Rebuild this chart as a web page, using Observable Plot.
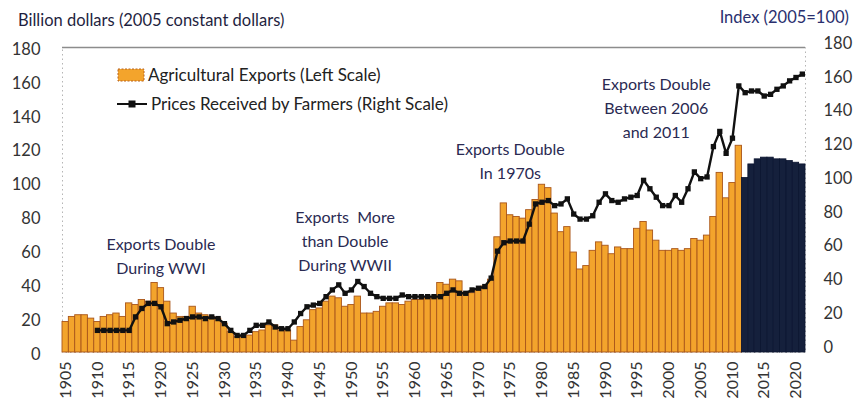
<!DOCTYPE html>
<html>
<head>
<meta charset="utf-8">
<script src="https://cdn.jsdelivr.net/npm/d3@7"></script>
<script src="https://cdn.jsdelivr.net/npm/@observablehq/plot@0.6"></script>
<style>
  html, body { margin: 0; padding: 0; background: #fff; }
  #wrap { position: relative; width: 857px; height: 406px; font-family: Lato, "Open Sans", sans-serif; }
  .ttl { position: absolute; font-size: 16.5px; white-space: nowrap; }
  .leg { position: absolute; left: 117px; font-size: 17px; color: #222; white-space: nowrap; display: flex; align-items: center; }
  .leg svg { margin-right: 3px; }
</style>
</head>
<body>
<div id="wrap">
  <div class="ttl" style="left:18px; top:10px; color:#1f1f3f;">Billion dollars (2005 constant dollars)</div>
  <div class="ttl" style="right:8px; top:7px; color:#2a2f6e;">Index (2005=100)</div>
  <div class="leg" style="top:64px;">
    <svg width="28" height="16"><rect x="1" y="2" width="26" height="12" fill="#f3a42c" stroke="#b8621c" stroke-width="1" stroke-dasharray="2,1.5"></rect></svg>
    <span>Agricultural Exports (Left Scale)</span>
  </div>
  <div class="leg" style="top:93px;">
    <svg width="31" height="16"><line x1="0" y1="8" x2="30" y2="8" stroke="#111" stroke-width="2"></line><rect x="11.5" y="4.5" width="7" height="7" fill="#111"></rect></svg>
    <span>Prices Received by Farmers (Right Scale)</span>
  </div>
</div>
<script>
// ---- data ----
const firstYear = 1905;
const lastYear = 2021;
const projectionStart = 2012;

// Agricultural exports, billion 2005 dollars, 1905..2021
const exportValues = [
  18, 21, 22, 22, 20, 18, 21, 22, 23, 21,
  29, 28, 31, 30, 41, 38, 30, 23, 21, 21,
  27, 23, 22, 21, 20, 17, 12, 9, 9, 10,
  12, 13, 16, 16, 13, 13, 7, 15, 19, 25,
  26, 30, 33, 32, 27, 28, 33, 23, 23, 24,
  27, 29, 29, 28, 30, 31, 31, 32, 32, 41,
  40, 43, 42, 35, 35, 37, 39, 43, 68, 88,
  81, 80, 79, 84, 90, 99, 97, 82, 71, 74,
  59, 49, 51, 60, 65, 63, 58, 62, 61, 61,
  73, 77, 72, 66, 60, 60, 61, 60, 61, 67,
  66, 69, 80, 106, 91, 100, 122, 103, 111, 114,
  115, 115, 114, 114, 113, 112, 111
];

// Prices received by farmers, index 2005=100, 1910..2021
const priceStart = 1910;
const priceValues = [
  10, 10, 10, 10, 10, 10, 18, 23, 26, 26,
  24, 14, 15, 16, 17, 18, 18, 17, 18, 17,
  14, 10, 7, 7, 10, 13, 13, 15, 12, 11,
  11, 15, 20, 24, 25, 26, 30, 34, 37, 32,
  34, 39, 36, 32, 30, 29, 29, 29, 31, 30,
  30, 30, 30, 30, 30, 32, 34, 32, 32, 34,
  35, 36, 41, 57, 62, 63, 63, 63, 73, 85,
  86, 87, 84, 85, 88, 79, 76, 76, 78, 86,
  91, 87, 86, 88, 89, 90, 99, 94, 89, 84,
  84, 90, 86, 94, 104, 100, 101, 119, 128, 115,
  124, 155, 151, 152, 152, 149, 150, 153, 155, 158,
  160, 162
];

const leftTicks = [0, 20, 40, 60, 80, 100, 120, 140, 160, 180];
const rightTicks = [0, 20, 40, 60, 80, 100, 120, 140, 160, 180];
const xTickYears = [1905, 1910, 1915, 1920, 1925, 1930, 1935, 1940, 1945, 1950, 1955, 1960,
                    1965, 1970, 1975, 1980, 1985, 1990, 1995, 2000, 2005, 2010, 2015, 2020];

const annotationText = [
  "Exports Double\nDuring WWI",
  "Exports  More\nthan Double\nDuring WWII",
  "Exports Double\nIn 1970s",
  "Exports Double\nBetween 2006\nand 2011"
];
const annotationYear = [1920, 1949, 1975, 1998];
const annotationLevel = [58, 67, 114, 145];

// ---- build ----
const years = d3.range(firstYear, lastYear + 1);
const exportsData = years.map((year, i) => ({year, value: exportValues[i]}));
const priceData = priceValues.map((p, i) => ({year: priceStart + i, price: p}));
const annotations = annotationText.map((t, i) => ({label: t, year: annotationYear[i], value: annotationLevel[i]}));

// the right-hand index axis sits slightly offset against the left one
const RIGHT_SHIFT = 3.1, RIGHT_SCALE = 0.995;
const toLeft = p => RIGHT_SHIFT + p * RIGHT_SCALE;
const fromLeft = v => String(Math.round((v - RIGHT_SHIFT) / RIGHT_SCALE));

const orange = "#f3a42c", orangeEdge = "#a9561a";
const navy = "#15203c", navyEdge = "#0b1430";

const chart = Plot.plot({
  width: 857,
  height: 406,
  marginLeft: 62,
  marginRight: 52,
  marginTop: 47,
  marginBottom: 54,
  style: {fontFamily: "Lato, 'Open Sans', sans-serif", color: "#333", background: "transparent", overflow: "visible"},
  x: {type: "band", domain: years, padding: 0},
  y: {domain: [0, 180]},
  marks: [
    Plot.frame({stroke: "#b5b5b5", strokeDasharray: "1.5,3"}),
    Plot.ruleY([180], {stroke: "#8c8c8c", strokeWidth: 1.6}),
    Plot.barY(exportsData.filter(d => d.year < projectionStart), {x: "year", y: "value", fill: orange, stroke: orangeEdge, strokeWidth: 0.9}),
    Plot.barY(exportsData.filter(d => d.year >= projectionStart), {x: "year", y: "value", fill: navy, stroke: navyEdge, strokeWidth: 0.8}),
    Plot.line(priceData, {x: "year", y: d => toLeft(d.price), stroke: "#111", strokeWidth: 2.4}),
    Plot.dot(priceData, {x: "year", y: d => toLeft(d.price), symbol: "square", r: 3, fill: "#111", stroke: "none"}),
    Plot.text(annotations, {x: "year", y: "value", text: "label", fontSize: 16, fill: "#2a2a52", lineHeight: 1.5}),
    Plot.axisY({ticks: leftTicks, anchor: "left", tickSize: 0, tickPadding: 22, fontSize: 16.5, dy: 2, label: null}),
    Plot.axisY({ticks: rightTicks.map(toLeft), tickFormat: fromLeft, anchor: "right", tickSize: 0, tickPadding: 18, fontSize: 16.5, label: null}),
    Plot.axisX({ticks: xTickYears, tickFormat: d => String(d), tickRotate: -90, tickSize: 0, tickPadding: 9, fontSize: 16, label: null})
  ]
});
chart.style.position = "absolute";
chart.style.left = "0px";
chart.style.top = "0px";
document.getElementById("wrap").prepend(chart);
</script>
</body>
</html>
